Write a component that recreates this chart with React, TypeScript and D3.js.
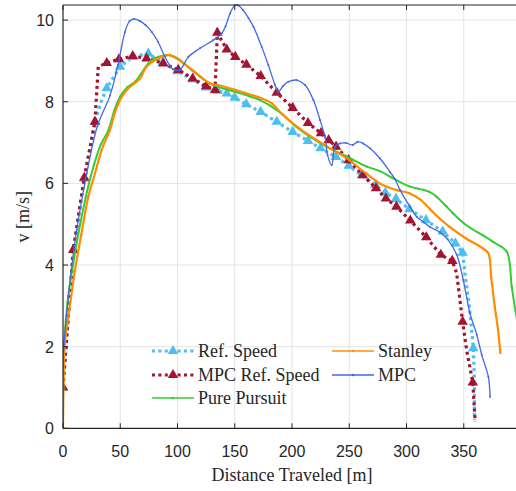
import React from 'react';
import * as d3 from 'd3';

// reference speed profile
const refDist = [0, 9, 18.6, 27.9, 33.8, 38.2, 49.8, 61, 74.5, 87, 100, 113, 125, 135, 143, 150, 160, 172.6, 186.7, 200.6, 214, 225, 238.4, 249.5, 261, 272.8, 281.5, 290.8, 302.5, 317, 331.6, 342.7, 349, 351, 354.9, 358.4, 359.3, 359.3];
const refSpeed = [1.0, 4.37, 6.12, 7.51, 8.04, 8.33, 8.86, 9.1, 9.18, 8.95, 8.75, 8.55, 8.35, 8.27, 8.2, 8.1, 7.94, 7.75, 7.51, 7.26, 7.04, 6.86, 6.65, 6.43, 6.2, 5.96, 5.77, 5.62, 5.37, 5.1, 4.82, 4.53, 4.3, 3.8, 2.98, 1.96, 1.18, 0.2];
const refMarks = [0, 1, 2, 3, 5, 6, 7, 8, 9, 10, 11, 12, 13, 14, 15, 16, 17, 18, 19, 20, 21, 22, 23, 24, 25, 26, 27, 28, 29, 30, 31, 32, 35];

// MPC reference speed
const mpcRefDist = [0, 9, 18.6, 27.9, 30.8, 38.2, 48.9, 60.9, 73, 87.6, 100.7, 113.3, 124.9, 132.8, 134.8, 143, 150.5, 160.2, 172.7, 186.7, 200.6, 214, 225.3, 232, 238.5, 249.5, 261.8, 273.4, 282, 291.2, 303.3, 317.3, 330, 340, 343.8, 346.7, 349, 352.5, 357.9, 360];
const mpcRefSpeed = [1.0, 4.37, 6.14, 7.51, 8.86, 8.95, 9.04, 9.12, 9.06, 8.94, 8.78, 8.57, 8.38, 8.29, 9.69, 9.28, 9.1, 8.91, 8.63, 8.22, 7.85, 7.48, 7.23, 7.06, 6.9, 6.57, 6.2, 5.88, 5.63, 5.43, 5.09, 4.68, 4.25, 4.1, 3.8, 3.14, 2.61, 1.92, 1.12, 0.16];
const mpcRefMarks = [0, 1, 2, 3, 5, 6, 7, 8, 9, 10, 11, 12, 13, 14, 15, 16, 17, 18, 19, 20, 21, 22, 23, 24, 25, 26, 27, 28, 29, 30, 31, 32, 33, 36, 38];

// Pure Pursuit
const ppDist = [0, 0.3, 1.2, 4, 9, 15, 21, 27, 33, 39.6, 45, 49.8, 56, 62.9, 68, 74.5, 80, 86.2, 93.5, 100, 113, 128, 143, 158, 172, 184, 192, 203, 217, 232, 247.8, 265.3, 276.9, 288.5, 303, 314.7, 320, 326, 335, 340.5, 352, 366.6, 376, 387.5, 391.9, 394.8, 399];
const ppSpeed = [0, 1.2, 2.15, 3.1, 4.05, 5.0, 5.8, 6.45, 6.95, 7.3, 7.8, 8.12, 8.35, 8.49, 8.68, 8.94, 9.06, 9.12, 9.14, 9.06, 8.76, 8.45, 8.3, 8.18, 8.04, 7.85, 7.68, 7.4, 7.12, 6.87, 6.66, 6.41, 6.3, 6.12, 5.92, 5.84, 5.79, 5.68, 5.43, 5.27, 4.98, 4.73, 4.56, 4.33, 3.47, 2.94, 2.3];

// Stanley
const stDist = [0, 0.5, 1.7, 6, 10.5, 16, 22.1, 28, 33.8, 41, 45, 49.8, 55.6, 62.9, 67.3, 73, 81.8, 92, 99.3, 113.8, 128.4, 135.6, 150.2, 173.5, 182.3, 191, 202.6, 217.2, 235.6, 250, 264.4, 279.2, 290.8, 302.5, 312.7, 322.9, 337.4, 352, 366.6, 371.5, 374, 377, 380, 382];
const stSpeed = [0, 1.2, 2.09, 3.0, 3.88, 4.75, 5.67, 6.25, 6.82, 7.31, 7.7, 8.04, 8.29, 8.46, 8.57, 8.86, 9.04, 9.14, 9.06, 8.76, 8.45, 8.41, 8.29, 8.08, 7.96, 7.71, 7.43, 7.14, 6.82, 6.57, 6.25, 5.96, 5.84, 5.76, 5.59, 5.3, 4.94, 4.65, 4.41, 4.29, 3.7, 3.0, 2.4, 1.84];

// MPC
const mpcDist = [0, 0, 4.6, 12, 20.7, 30, 41, 48, 54, 58, 62, 67, 72, 77.5, 83, 89, 96, 102, 109.5, 119.7, 131.3, 138.6, 142, 145.9, 150.2, 153, 157.5, 162, 166.3, 173.5, 179.3, 185.2, 188.1, 192, 196.8, 204.1, 211.4, 218.7, 224.5, 228.8, 231, 234.7, 237.6, 242, 247, 253, 257.4, 262, 268.1, 276.9, 285.6, 290, 294.3, 303, 309, 315, 320.5, 329.3, 336, 343.9, 349.6, 355.4, 361.3, 365.7, 371.5, 373];
const mpcSpeed = [0, 1.6, 3.22, 4.86, 6.24, 7.4, 8.15, 8.9, 9.7, 9.97, 10.03, 9.98, 9.88, 9.71, 9.47, 9.1, 8.8, 8.78, 9.1, 9.31, 9.51, 9.67, 9.85, 10.16, 10.37, 10.36, 10.24, 10.05, 9.84, 9.35, 8.9, 8.41, 8.24, 8.38, 8.49, 8.53, 8.41, 8.04, 7.55, 7.14, 6.7, 6.45, 6.9, 6.98, 6.99, 6.94, 7.02, 6.98, 6.86, 6.61, 6.28, 6.1, 5.84, 5.43, 5.18, 5.05, 4.93, 4.8, 4.63, 4.25, 3.63, 2.82, 2.3, 1.8, 1.26, 0.77];

const xTicks = [0, 50, 100, 150, 200, 250, 300, 350];
const yTicks = [0, 2, 4, 6, 8, 10];

const W = 516;
const H = 491;
const L = 63, R = 521, T = 5, B = 428.3;

const C_REF = '#4DBEEE';
const C_MREF = '#A2142F';
const C_PP = '#33CC33';
const C_ST = '#FF8C00';
const C_MPC = '#4169E1';

const SERIF = 'Liberation Serif';
const SANS = 'Liberation Sans';

export default function App() {
  const x = d3.scaleLinear().domain([0, 400]).range([L, R]);
  const y = d3.scaleLinear().domain([0, 10.37]).range([B, T]);

  const pts = (xs: number[], ys: number[]) => xs.map((d, i) => [d, ys[i]] as [number, number]);
  const line = d3.line<[number, number]>().x(d => x(d[0])).y(d => y(d[1]));
  const smooth = d3.line<[number, number]>().x(d => x(d[0])).y(d => y(d[1])).curve(d3.curveCatmullRom.alpha(0.5));

  const tri = d3.symbol().type(d3.symbolTriangle).size(48)() as string;

  const ref = pts(refDist, refSpeed);
  const mref = pts(mpcRefDist, mpcRefSpeed);
  const pp = pts(ppDist, ppSpeed);
  const st = pts(stDist, stSpeed);
  const mpc = pts(mpcDist, mpcSpeed);

  const dotted = { strokeWidth: 3.2, strokeDasharray: '3 3.4', fill: 'none' };

  const legend = [
    { label: 'Ref. Speed', col: 0, row: 0, kind: 'ref' },
    { label: 'MPC Ref. Speed', col: 0, row: 1, kind: 'mref' },
    { label: 'Pure Pursuit', col: 0, row: 2, kind: 'pp' },
    { label: 'Stanley', col: 1, row: 0, kind: 'st' },
    { label: 'MPC', col: 1, row: 1, kind: 'mpc' },
  ];
  const legX = [152, 332];
  const legY = [351, 375, 398];

  return (
    <svg width={W} height={H} style={{ position: 'absolute', left: 0, top: 0, background: '#fff' }}>
      <defs>
        <clipPath id="plot">
          <rect x={L} y={T - 2} width={R - L} height={B - T + 4} />
        </clipPath>
      </defs>
      <rect x={0} y={0} width={W} height={H} fill="#fff" />
      {/* grid */}
      {xTicks.filter(t => t > 0).map(t => (
        <line key={'gx' + t} x1={x(t)} x2={x(t)} y1={T} y2={B} stroke="#e3e3e3" strokeWidth={1} />
      ))}
      {yTicks.filter(t => t > 0).map(t => (
        <line key={'gy' + t} x1={L} x2={R} y1={y(t)} y2={y(t)} stroke="#e3e3e3" strokeWidth={1} />
      ))}

      <g clipPath="url(#plot)">
        <path d={line(ref) || ''} stroke={C_REF} {...dotted} />
        {refMarks.map(i => (
          <path key={'rm' + i} d={tri} transform={`translate(${x(ref[i][0])},${y(ref[i][1])})`} fill={C_REF} />
        ))}
        <path d={line(mref) || ''} stroke={C_MREF} {...dotted} />
        {mpcRefMarks.map(i => (
          <path key={'mm' + i} d={tri} transform={`translate(${x(mref[i][0])},${y(mref[i][1])})`} fill={C_MREF} />
        ))}
        <path d={smooth(pp) || ''} stroke={C_PP} strokeWidth={2} fill="none" />
        {pp.map((d, i) => <circle key={'pd' + i} cx={x(d[0])} cy={y(d[1])} r={1.1} fill={C_PP} />)}
        <path d={smooth(st) || ''} stroke={C_ST} strokeWidth={2.2} fill="none" />
        {st.map((d, i) => <circle key={'sd' + i} cx={x(d[0])} cy={y(d[1])} r={1.1} fill={C_ST} />)}
        <path d={smooth(mpc) || ''} stroke={C_MPC} strokeWidth={1.3} fill="none" />
        {mpc.map((d, i) => <circle key={'md' + i} cx={x(d[0])} cy={y(d[1])} r={1} fill={C_MPC} />)}
      </g>

      {/* axes box */}
      <line x1={L} x2={L} y1={T} y2={B} stroke="#262626" strokeWidth={1.2} />
      <line x1={L} x2={R} y1={B} y2={B} stroke="#262626" strokeWidth={1.2} />
      <line x1={L} x2={R} y1={T} y2={T} stroke="#262626" strokeWidth={1.2} />
      <line x1={R} x2={R} y1={T} y2={B} stroke="#262626" strokeWidth={1.2} />
      {xTicks.map(t => (
        <g key={'xt' + t}>
          <line x1={x(t)} x2={x(t)} y1={B} y2={B - 5} stroke="#262626" />
          <line x1={x(t)} x2={x(t)} y1={T} y2={T + 5} stroke="#262626" />
          <text x={x(t)} y={457} textAnchor="middle" fontFamily={SANS} fontSize={16} fill="#262626">{t}</text>
        </g>
      ))}
      {yTicks.map(t => (
        <g key={'yt' + t}>
          <line x1={L} x2={L + 5} y1={y(t)} y2={y(t)} stroke="#262626" />
          <line x1={R - 5} x2={R} y1={y(t)} y2={y(t)} stroke="#262626" />
          <text x={54} y={y(t) + 6} textAnchor="end" fontFamily={SANS} fontSize={16} fill="#262626">{t}</text>
        </g>
      ))}

      <text x={(L + R) / 2} y={481} textAnchor="middle" fontFamily={SERIF} fontSize={18} fill="#262626">Distance Traveled [m]</text>
      <text transform={`translate(29,${(T + B) / 2}) rotate(-90)`} textAnchor="middle" fontFamily={SERIF} fontSize={18} fill="#262626">v [m/s]</text>

      {/* legend */}
      {legend.map(l => {
        const lx = legX[l.col];
        const ly = legY[l.row];
        const color = l.kind === 'ref' ? C_REF : l.kind === 'mref' ? C_MREF : l.kind === 'pp' ? C_PP : l.kind === 'st' ? C_ST : C_MPC;
        const isDotted = l.kind === 'ref' || l.kind === 'mref';
        return (
          <g key={l.label}>
            {isDotted ? (
              <>
                <line x1={lx} x2={lx + 42} y1={ly} y2={ly} stroke={color} {...dotted} />
                <path d={tri} transform={`translate(${lx + 21},${ly})`} fill={color} />
              </>
            ) : (
              <>
                <line x1={lx} x2={lx + 42} y1={ly} y2={ly} stroke={color} strokeWidth={1.3} />
                <circle cx={lx + 21} cy={ly} r={1.3} fill={color} />
              </>
            )}
            <text x={lx + 46} y={ly + 6} fontFamily={SERIF} fontSize={18} fill="#262626">{l.label}</text>
          </g>
        );
      })}
    </svg>
  );
}
